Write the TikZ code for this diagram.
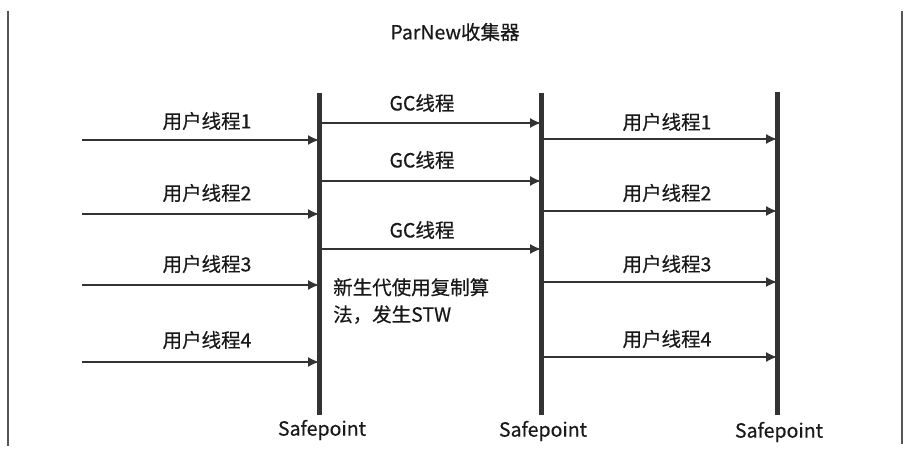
\documentclass[tikz,border=0pt]{standalone}
\usepackage{fontspec}
\setmainfont{Noto Sans CJK SC}[FakeBold=0.5]
\usetikzlibrary{arrows.meta}
\definecolor{linegray}{HTML}{333333}
\definecolor{framegray}{HTML}{555555}

\begin{document}
\begin{tikzpicture}[x=1pt,y=-1pt,
    bar/.style={draw=linegray,line width=5pt},
    thread/.style={draw=linegray,line width=1.4pt,-{Latex[length=11pt,width=10pt]}},
    lbl/.style={font=\fontsize{19.5}{23}\selectfont,text=black!90,inner sep=0pt}]
    \useasboundingbox (0,0) rectangle (910,454);
    % frame edges
    \draw[framegray,line width=1.5pt] (8,11) -- (8,446);
    \draw[framegray,line width=1.5pt] (902,11) -- (902,444);
    % title
    \node[lbl] (title) at (455,32) {ParNew收集器};
    % safepoint bars
    \coordinate (b1top) at (319,93);  \coordinate (b1bot) at (319,415);
    \coordinate (b2top) at (541,93);  \coordinate (b2bot) at (541,415);
    \coordinate (b3top) at (777,92);  \coordinate (b3bot) at (777,415);
    \draw[bar] (b1top) -- (b1bot);
    \draw[bar] (b2top) -- (b2bot);
    \draw[bar] (b3top) -- (b3bot);
    \node[lbl] (sp1) at (322,430) {Safepoint};
    \node[lbl] (sp2) at (543,431) {Safepoint};
    \node[lbl] (sp3) at (779,432) {Safepoint};
    % user threads before the first safepoint
    \coordinate (u1) at (82,140);  \coordinate (u2) at (82,214);
    \coordinate (u3) at (82,285);  \coordinate (u4) at (82,362);
    \draw[thread] (u1) -- (u1 -| b1top);
    \draw[thread] (u2) -- (u2 -| b1top);
    \draw[thread] (u3) -- (u3 -| b1top);
    \draw[thread] (u4) -- (u4 -| b1top);
    \node[lbl] (ul1) at (207,121) {用户线程1};
    \node[lbl] (ul2) at (207,193) {用户线程2};
    \node[lbl] (ul3) at (207,264) {用户线程3};
    \node[lbl] (ul4) at (207,340) {用户线程4};
    % gc threads
    \coordinate (g1) at (321,123); \coordinate (g2) at (321,181);
    \coordinate (g3) at (321,249);
    \draw[thread] (g1) -- (g1 -| b2top);
    \draw[thread] (g2) -- (g2 -| b2top);
    \draw[thread] (g3) -- (g3 -| b2top);
    \node[lbl] (gl1) at (422,103) {GC线程};
    \node[lbl] (gl2) at (422,160) {GC线程};
    \node[lbl] (gl3) at (422,230) {GC线程};
    \node[lbl,anchor=north west,align=left,font=\fontsize{19.5}{27}\selectfont] (stw) at (333,278)
      {新生代使用复制算\\法，发生STW};
    % user threads after the gc
    \coordinate (r1) at (543,139); \coordinate (r2) at (543,211);
    \coordinate (r3) at (543,282); \coordinate (r4) at (543,357);
    \draw[thread] (r1) -- (r1 -| b3top);
    \draw[thread] (r2) -- (r2 -| b3top);
    \draw[thread] (r3) -- (r3 -| b3top);
    \draw[thread] (r4) -- (r4 -| b3top);
    \node[lbl] (rl1) at (667,122) {用户线程1};
    \node[lbl] (rl2) at (667,193) {用户线程2};
    \node[lbl] (rl3) at (667,264) {用户线程3};
    \node[lbl] (rl4) at (667,339) {用户线程4};
\end{tikzpicture}
\end{document}
